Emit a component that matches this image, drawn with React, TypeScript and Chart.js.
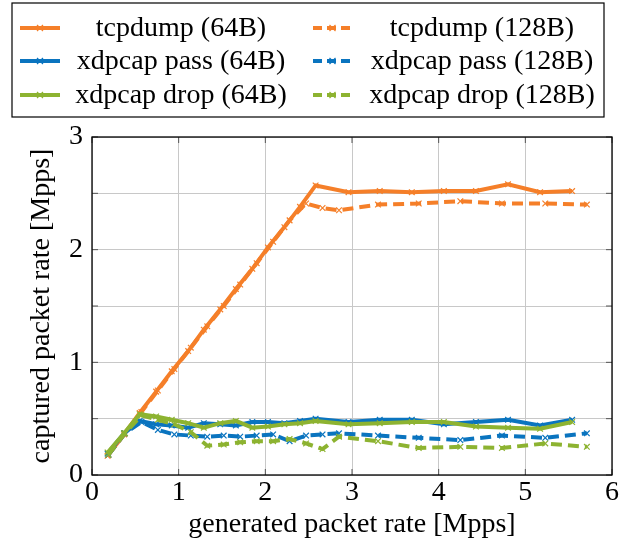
import React, { useEffect, useRef } from 'react';
import { Chart, registerables } from 'chart.js';
Chart.register(...registerables);

const FONT = "'Liberation Serif', 'Times New Roman', serif";

const xTicks = [0, 1, 2, 3, 4, 5, 6];
const yTicks = [0, 1, 2, 3];

const x64 = [0.18, 0.37, 0.55, 0.74, 0.92, 1.11, 1.29, 1.48, 1.66, 1.85, 2.03, 2.22, 2.4, 2.58, 2.96, 3.32, 3.69, 4.06, 4.43, 4.8, 5.17, 5.54];
const tcpdump64 = [0.17, 0.36, 0.55, 0.74, 0.92, 1.1, 1.29, 1.47, 1.65, 1.83, 2.02, 2.2, 2.38, 2.57, 2.51, 2.52, 2.51, 2.52, 2.52, 2.58, 2.51, 2.52];
const pass64 = [0.19, 0.37, 0.48, 0.45, 0.44, 0.42, 0.46, 0.45, 0.44, 0.47, 0.47, 0.46, 0.48, 0.5, 0.47, 0.49, 0.49, 0.45, 0.47, 0.49, 0.44, 0.49];
const drop64 = [0.2, 0.37, 0.54, 0.52, 0.49, 0.46, 0.42, 0.46, 0.48, 0.42, 0.43, 0.45, 0.46, 0.48, 0.45, 0.46, 0.47, 0.47, 0.43, 0.42, 0.41, 0.47];

const x128 = [0.19, 0.38, 0.57, 0.76, 0.95, 1.14, 1.33, 1.52, 1.71, 1.9, 2.09, 2.28, 2.47, 2.66, 2.85, 3.3, 3.77, 4.25, 4.73, 5.23, 5.71];
const tcpdump128 = [0.18, 0.37, 0.56, 0.75, 0.94, 1.13, 1.32, 1.5, 1.69, 1.88, 2.07, 2.26, 2.41, 2.37, 2.35, 2.4, 2.41, 2.43, 2.41, 2.41, 2.4];
const pass128 = [0.18, 0.37, 0.47, 0.4, 0.36, 0.35, 0.34, 0.35, 0.34, 0.35, 0.36, 0.3, 0.35, 0.36, 0.37, 0.35, 0.33, 0.31, 0.35, 0.33, 0.37];
const drop128 = [0.18, 0.37, 0.53, 0.49, 0.45, 0.38, 0.26, 0.27, 0.29, 0.3, 0.3, 0.32, 0.28, 0.23, 0.34, 0.3, 0.24, 0.25, 0.24, 0.28, 0.25];

const ORANGE = '#F57F29';
const BLUE = '#0A74BF';
const GREEN = '#8DB331';

const legendItems = [
  { label: 'tcpdump (64B)', color: ORANGE, dashed: false },
  { label: 'tcpdump (128B)', color: ORANGE, dashed: true },
  { label: 'xdpcap pass (64B)', color: BLUE, dashed: false },
  { label: 'xdpcap pass (128B)', color: BLUE, dashed: true },
  { label: 'xdpcap drop (64B)', color: GREEN, dashed: false },
  { label: 'xdpcap drop (128B)', color: GREEN, dashed: true },
];

const DASH = [11, 6];

function toPts(xs: number[], ys: number[]) {
  return xs.map((x, i) => ({ x, y: ys[i] }));
}

function ds(label: string, xs: number[], ys: number[], color: string, dashed: boolean) {
  return {
    label,
    data: toPts(xs, ys),
    borderColor: color,
    backgroundColor: color,
    borderWidth: 4,
    borderDash: dashed ? DASH : [],
    pointStyle: 'crossRot',
    pointRadius: 4,
    pointBorderWidth: 1.2,
    pointBorderColor: color,
    tension: 0,
  };
}

const framePlugin = {
  id: 'frameAndLegend',
  afterDatasetsDraw(chart: any) {
    const { ctx, chartArea } = chart;
    const { left, right, top, bottom } = chartArea;
    const xs = chart.scales.x;
    const ys = chart.scales.y;
    ctx.save();
    ctx.strokeStyle = '#555';
    ctx.lineWidth = 1;
    const tl = 6;
    for (let v = 0; v <= 6; v += 1) {
      const px = xs.getPixelForValue(v);
      ctx.beginPath();
      ctx.moveTo(px, bottom);
      ctx.lineTo(px, bottom - tl);
      ctx.moveTo(px, top);
      ctx.lineTo(px, top + tl);
      ctx.stroke();
    }
    for (let v = 0; v <= 3; v += 0.5) {
      const py = ys.getPixelForValue(v);
      ctx.beginPath();
      ctx.moveTo(left, py);
      ctx.lineTo(left + tl, py);
      ctx.moveTo(right, py);
      ctx.lineTo(right - tl, py);
      ctx.stroke();
    }
    ctx.strokeStyle = '#000';
    ctx.lineWidth = 1.3;
    ctx.strokeRect(left, top, right - left, bottom - top);
    ctx.restore();
  },
  afterDraw(chart: any) {
    const { ctx } = chart;
    ctx.save();
    ctx.strokeStyle = '#000';
    ctx.lineWidth = 1.2;
    ctx.strokeRect(12, 3, 592, 114);
    const rows = [28, 61, 95];
    const cols = [
      { lx0: 20, lx1: 60, tx: 181 },
      { lx0: 313, lx1: 352, tx: 482 },
    ];
    ctx.font = `28px ${FONT}`;
    ctx.textAlign = 'center';
    ctx.textBaseline = 'middle';
    legendItems.forEach((it, i) => {
      const r = rows[Math.floor(i / 2)];
      const c = cols[i % 2];
      ctx.strokeStyle = it.color;
      ctx.lineWidth = 4;
      ctx.setLineDash(it.dashed ? [9, 5] : []);
      ctx.beginPath();
      ctx.moveTo(c.lx0, r);
      ctx.lineTo(c.lx1, r);
      ctx.stroke();
      ctx.setLineDash([]);
      const mx = (c.lx0 + c.lx1) / 2;
      ctx.lineWidth = 1.2;
      ctx.beginPath();
      ctx.moveTo(mx - 3, r - 3);
      ctx.lineTo(mx + 3, r + 3);
      ctx.moveTo(mx - 3, r + 3);
      ctx.lineTo(mx + 3, r - 3);
      ctx.stroke();
      ctx.fillStyle = '#000';
      ctx.fillText(it.label, c.tx, r + 1);
    });
    ctx.restore();
  },
};

export default function App() {
  const ref = useRef<HTMLCanvasElement | null>(null);
  useEffect(() => {
    if (!ref.current) return;
    const font = { family: FONT, size: 28 };
    const chart = new Chart(ref.current, {
      type: 'line',
      data: {
        datasets: [
          ds('xdpcap drop (128B)', x128, drop128, GREEN, true),
          ds('xdpcap drop (64B)', x64, drop64, GREEN, false),
          ds('xdpcap pass (128B)', x128, pass128, BLUE, true),
          ds('xdpcap pass (64B)', x64, pass64, BLUE, false),
          ds('tcpdump (128B)', x128, tcpdump128, ORANGE, true),
          ds('tcpdump (64B)', x64, tcpdump64, ORANGE, false),
        ] as any,
      },
      options: {
        animation: false,
        responsive: false,
        devicePixelRatio: 1,
        layout: { padding: { left: 0, right: 16, top: 137, bottom: 0 } },
        plugins: { legend: { display: false }, tooltip: { enabled: false } },
        scales: {
          x: {
            type: 'linear',
            min: xTicks[0],
            max: xTicks[xTicks.length - 1],
            afterBuildTicks: (s: any) => { s.ticks = xTicks.map((v) => ({ value: v })); },
            ticks: { font, color: '#000', padding: 1, maxRotation: 0, callback: (v: any) => String(v) },
            grid: { color: '#c8c8c8', lineWidth: 1, drawTicks: false },
            border: { display: false },
            title: { display: true, text: 'generated packet rate [Mpps]', font, color: '#000', padding: { top: 0, bottom: 5 } },
            afterFit: (s: any) => { s.height = 71; },
          },
          y: {
            type: 'linear',
            min: yTicks[0],
            max: yTicks[yTicks.length - 1],
            ticks: {
              stepSize: 0.5,
              font,
              color: '#000',
              padding: 9,
              callback: (v: any) => (yTicks.includes(Number(v)) ? String(v) : ''),
            },
            grid: { color: '#c8c8c8', lineWidth: 1, drawTicks: false },
            border: { display: false },
            title: { display: true, text: 'captured packet rate [Mpps]', font, color: '#000', padding: { top: 25, bottom: 0 } },
            afterFit: (s: any) => { s.width = 92; },
          },
        },
      } as any,
      plugins: [framePlugin],
    });
    return () => chart.destroy();
  }, []);
  return (
    <div style={{ position: 'absolute', left: 0, top: 0, width: 628, height: 546, background: '#fff' }}>
      <canvas ref={ref} width={628} height={546} style={{ display: 'block' }} />
    </div>
  );
}
